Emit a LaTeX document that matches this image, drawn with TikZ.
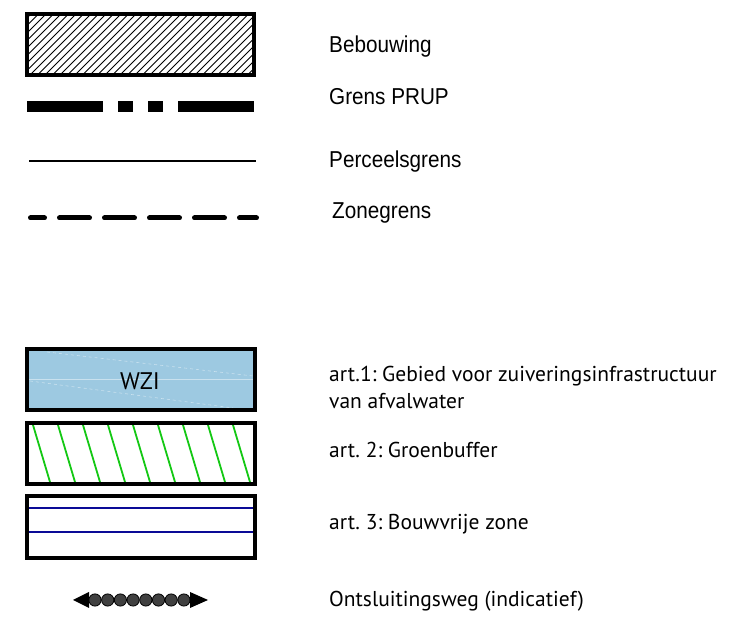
\documentclass[tikz,border=0pt]{standalone}
\usepackage{fontspec}
\newfontfamily\legfont{Liberation Sans}
\newfontfamily\artfont{PT Sans}
\usetikzlibrary{positioning}
\frenchspacing

\definecolor{wzblue}{RGB}{157,201,225}
\definecolor{buffergreen}{RGB}{20,200,20}
\definecolor{zoneblue}{RGB}{10,10,150}

\newcommand{\narrow}[1]{\scalebox{0.9}[1]{#1}}

\tikzset{
  legbox/.style={line width=3.5pt},
  legtext/.style={anchor=base west, inner sep=0pt, font=\legfont\fontsize{23}{27}\selectfont},
  arttext/.style={anchor=base west, inner sep=0pt, align=left, font=\artfont\fontsize{21.5}{27}\selectfont}
}

\begin{document}
\begin{tikzpicture}[x=1pt, y=-1pt]
    \useasboundingbox (0,0) rectangle (732,617);

    % Bebouwing
    \begin{scope}
        \clip (27,14) rectangle (254,75);
        \foreach \i in {-60,-52.5,...,260}
            \draw[line width=0.9pt] (\i,75) -- ++(61,-61);
    \end{scope}
    \draw[legbox] (27,14) rectangle (254,75);
    \node[legtext] (bebouwing) at (329,53) {\narrow{Bebouwing}};

    % Grens PRUP
    \fill (27,101) rectangle (103,112);
    \fill (118,101) rectangle (133,112);
    \fill (148,101) rectangle (163,112);
    \fill (178,101) rectangle (254,112);
    \node[legtext] (prup) at (329,105) {\narrow{Grens PRUP}};

    % Perceelsgrens
    \draw[line width=1.1pt] (29,161) -- (256,161);
    \node[legtext] (perceel) at (329,168) {\narrow{Perceelsgrens}};

    % Zonegrens
    \draw[line width=5pt, line cap=round, dash pattern=on 30pt off 15pt, dash phase=16pt]
        (30.5,218) -- (256.5,218);
    \node[legtext] (zone) at (332,219) {\narrow{Zonegrens}};

    % art. 1 WZI
    \fill[wzblue] (27,349) rectangle (255,410);
    \draw[white, opacity=0.45, line width=0.6pt] (29,379) -- (253,379);
    \draw[white, opacity=0.45, line width=0.6pt, dashed] (47,352) -- (253,376);
    \draw[white, opacity=0.45, line width=0.6pt, dashed] (30,381) -- (233,408);
    \draw[legbox] (27,349) rectangle (255,410);
    \node[font=\artfont\fontsize{24}{28}\selectfont, inner sep=0pt] (wzi) at (140,381) {WZI};
    \node[arttext] (art1) at (329,409) {art.1: Gebied voor zuiveringsinfrastructuur\\van afvalwater};

    % art. 2 Groenbuffer
    \foreach \x in {33,58,...,233}
        \draw[buffergreen, line width=1.8pt] (\x,425) -- (\x+17,482);
    \draw[legbox] (27,423) rectangle (255,484);
    \node[arttext] (art2) at (329,458) {art. 2: Groenbuffer};

    % art. 3 Bouwvrije zone
    \draw[zoneblue, line width=1.6pt] (29,508) -- (253,508);
    \draw[zoneblue, line width=1.6pt] (29,532) -- (253,532);
    \draw[legbox] (27,496) rectangle (255,558);
    \node[arttext] (art3) at (329,530) {art. 3: Bouwvrije zone};

    % Ontsluitingsweg
    \fill (73,600) -- (89,592) -- (89,608) -- cycle;
    \fill (208,600) -- (190,592) -- (190,608) -- cycle;
    \foreach \k in {0,...,7}
        \draw[fill=black!75, line width=0.8pt] (95+\k*12.7,600) circle (6.1);
    \node[arttext] (weg) at (329,607) {Ontsluitingsweg (indicatief)};
\end{tikzpicture}
\end{document}
